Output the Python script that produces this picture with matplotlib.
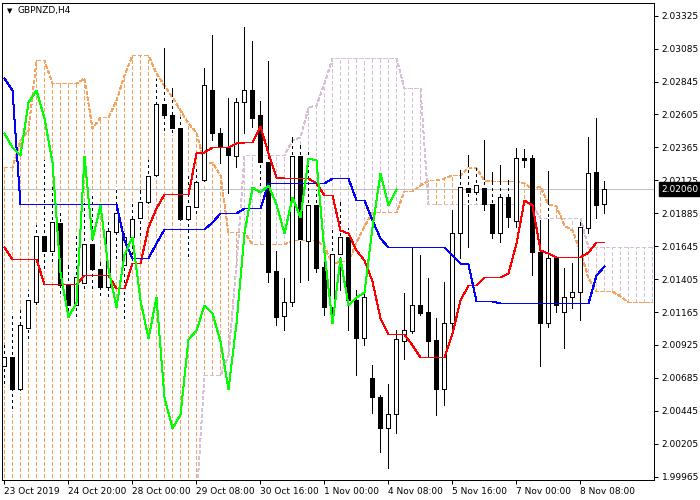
import matplotlib
matplotlib.use('Agg')
import matplotlib.pyplot as plt
from matplotlib.collections import LineCollection
import matplotlib.transforms as mtransforms
import numpy as np

# GBPNZD H4 candles
opens = [
    2.00772, 2.00837, 2.00604, 2.01049, 2.01238, 2.01719, 2.01610, 2.01814, 2.01362, 2.01216,
    2.01377, 2.01661, 2.01479, 2.01347, 2.01748, 2.01508, 2.01712, 2.01851, 2.01967, 2.02164,
    2.02681, 2.02601, 2.02506, 2.01843, 2.01930, 2.02127, 2.02783, 2.02470, 2.02368, 2.02302,
    2.02696, 2.02783, 2.02601, 2.02258, 2.01464, 2.01136, 2.01238, 2.02302, 2.01683, 2.01945,
    2.01493, 2.01202, 2.01588, 2.01712, 2.01253, 2.00976, 2.00684, 2.00546, 2.00320, 2.00422,
    2.00954, 2.01027, 2.01216, 2.01165, 2.00961, 2.00604, 2.01085, 2.01741, 2.02069, 2.02040,
    2.02069, 2.01952, 2.01741, 2.02003, 2.01829, 2.02288, 2.02288, 2.01602, 2.01085, 2.01559,
    2.01165, 2.01274, 2.01311, 2.01777, 2.02185, 2.01952]
highs = [
    2.00925, 2.01158, 2.01180, 2.01326, 2.01799, 2.02273, 2.02076, 2.01909, 2.01508, 2.01741,
    2.01960, 2.02032, 2.01530, 2.01821, 2.02076, 2.01741, 2.01967, 2.02054, 2.02273, 2.02863,
    2.03089, 2.02798, 2.02586, 2.02178, 2.02222, 2.02943, 2.03184, 2.02506, 2.02725, 2.02725,
    2.03242, 2.03140, 2.02703, 2.02994, 2.01610, 2.01413, 2.02441, 2.02382, 2.02346, 2.02054,
    2.01654, 2.01763, 2.01967, 2.01777, 2.01326, 2.01326, 2.00779, 2.00560, 2.00640, 2.01034,
    2.01304, 2.01639, 2.01581, 2.01413, 2.01122, 2.01384, 2.01909, 2.02200, 2.02309, 2.02215,
    2.02419, 2.02185, 2.02237, 2.02127, 2.02360, 2.02353, 2.02309, 2.01836, 2.02193, 2.01573,
    2.01486, 2.01522, 2.01821, 2.02441, 2.02579, 2.02120]
lows = [
    2.00633, 2.00451, 2.00582, 2.00961, 2.01209, 2.01471, 2.01522, 2.01289, 2.01122, 2.01122,
    2.01326, 2.01326, 2.01274, 2.01267, 2.01544, 2.01107, 2.01486, 2.01712, 2.01945, 2.02142,
    2.02477, 2.02462, 2.01821, 2.01559, 2.01872, 2.02105, 2.02419, 2.02251, 2.02032, 2.02222,
    2.02470, 2.02513, 2.02076, 2.01384, 2.01070, 2.01034, 2.01209, 2.01384, 2.01398, 2.01457,
    2.01143, 2.01085, 2.01326, 2.01034, 2.00706, 2.00925, 2.00429, 2.00145, 2.00028, 2.00283,
    2.00823, 2.01012, 2.01143, 2.00837, 2.00415, 2.00487, 2.01049, 2.01559, 2.01639, 2.01967,
    2.01909, 2.01705, 2.01675, 2.01785, 2.01785, 2.02222, 2.01435, 2.00772, 2.01056, 2.01165,
    2.00903, 2.01194, 2.01107, 2.01741, 2.01851, 2.01887]
closes = [
    2.00837, 2.00604, 2.01070, 2.01253, 2.01719, 2.01610, 2.01821, 2.01362, 2.01216, 2.01420,
    2.01661, 2.01479, 2.01347, 2.01756, 2.01887, 2.01712, 2.01843, 2.01967, 2.02156, 2.02681,
    2.02601, 2.02506, 2.01843, 2.01938, 2.02113, 2.02820, 2.02470, 2.02368, 2.02309, 2.02696,
    2.02783, 2.02579, 2.02258, 2.01457, 2.01129, 2.01238, 2.02302, 2.01697, 2.01945, 2.01486,
    2.01202, 2.01588, 2.01712, 2.01253, 2.00976, 2.01274, 2.00546, 2.00320, 2.00422, 2.00968,
    2.01034, 2.01216, 2.01158, 2.00954, 2.00604, 2.01085, 2.01741, 2.02076, 2.02040, 2.02091,
    2.01952, 2.01741, 2.02003, 2.01858, 2.02288, 2.02273, 2.01602, 2.01085, 2.01559, 2.01216,
    2.01274, 2.01311, 2.01785, 2.02178, 2.01945, 2.02060]

# Ichimoku lines
tenkan = [
    2.01639, 2.01551, 2.01551, 2.01551, 2.01551, 2.01369, 2.01369, 2.01369, 2.01369, 2.01369,
    2.01435, 2.01435, 2.01435, 2.01435, 2.01340, 2.01340, 2.01522, 2.01522, 2.01785, 2.01923,
    2.02025, 2.02025, 2.02025, 2.02025, 2.02324, 2.02331, 2.02368, 2.02368, 2.02368, 2.02397,
    2.02404, 2.02404, 2.02521, 2.02324, 2.02149, 2.02142, 2.02142, 2.02142, 2.02142, 2.02105,
    2.02018, 2.02018, 2.01763, 2.01741, 2.01617, 2.01544, 2.01391, 2.01122, 2.01005, 2.01005,
    2.01005, 2.00925, 2.00837, 2.00837, 2.00837, 2.00837, 2.01012, 2.01253, 2.01362, 2.01362,
    2.01420, 2.01420, 2.01420, 2.01449, 2.01668, 2.01981, 2.01945, 2.01617, 2.01595, 2.01566,
    2.01566, 2.01566, 2.01566, 2.01602, 2.01675, 2.01675]
kijun = [
    2.02871, 2.02783, 2.01952, 2.01952, 2.01952, 2.01952, 2.01952, 2.01952, 2.01952, 2.01952,
    2.01952, 2.01952, 2.01952, 2.01952, 2.01952, 2.01690, 2.01559, 2.01559, 2.01559, 2.01668,
    2.01770, 2.01770, 2.01770, 2.01770, 2.01770, 2.01770, 2.01821, 2.01887, 2.01887, 2.01887,
    2.01923, 2.01923, 2.01923, 2.02105, 2.02105, 2.02105, 2.02105, 2.02105, 2.02105, 2.02105,
    2.02105, 2.02142, 2.02142, 2.02142, 2.01981, 2.01981, 2.01836, 2.01705, 2.01639, 2.01639,
    2.01639, 2.01639, 2.01639, 2.01639, 2.01639, 2.01639, 2.01581, 2.01522, 2.01515, 2.01245,
    2.01245, 2.01245, 2.01231, 2.01231, 2.01231, 2.01231, 2.01231, 2.01231, 2.01231, 2.01231,
    2.01231, 2.01231, 2.01231, 2.01231, 2.01435, 2.01500]
# senkou span A for the first 26 shifted bars (source bars are off the chart)
span_a_early = [
    2.02222, 2.02222, 2.02419, 2.02492, 2.03002, 2.03002, 2.02834, 2.02834, 2.02834, 2.02834,
    2.02871, 2.02506, 2.02586, 2.02586, 2.02710, 2.02892, 2.03038, 2.03038, 2.03038, 2.02907,
    2.02820, 2.02732, 2.02637, 2.02543, 2.02477, 2.02251]
span_b = [
    1.99700, 1.99700, 1.99700, 1.99700, 1.99700, 1.99700, 1.99700, 1.99700, 1.99700, 1.99700,
    1.99700, 1.99700, 1.99700, 1.99700, 1.99700, 1.99700, 1.99700, 1.99700, 1.99700, 1.99700,
    1.99700, 1.99700, 1.99700, 1.99700, 1.99700, 2.00706, 2.00706, 2.00706, 2.00852, 2.01508,
    2.02309, 2.02309, 2.02309, 2.02309, 2.02309, 2.02309, 2.02419, 2.02441, 2.02659, 2.02674,
    2.02834, 2.03016, 2.03016, 2.03016, 2.03016, 2.03016, 2.03016, 2.03016, 2.03016, 2.03016,
    2.02798, 2.02798, 2.02798, 2.01952, 2.01952, 2.01952, 2.01952, 2.01952, 2.01952, 2.01952,
    2.01952, 2.01952, 2.01952, 2.01952, 2.01952, 2.01952, 2.01952, 2.01851, 2.01851, 2.01851,
    2.01851, 2.01851, 2.01851, 2.01639, 2.01639, 2.01639, 2.01639, 2.01639, 2.01639, 2.01639,
    2.01639, 2.01639]

date_labels = ['23 Oct 2019', '24 Oct 20:00', '28 Oct 00:00', '29 Oct 08:00', '30 Oct 16:00',
               '1 Nov 00:00', '4 Nov 08:00', '5 Nov 16:00', '7 Nov 00:00', '8 Nov 08:00']
price_ticks = [2.03325, 2.03085, 2.02845, 2.02605, 2.02365, 2.02125, 2.01885, 2.01645,
               2.01405, 2.01165, 2.00925, 2.00685, 2.00445, 2.00205, 1.99965]
symbol = 'GBPNZD,H4'
last_price = closes[-1]

SANDY = '#f4a460'
THISTLE = '#d8bfd8'
PX = 0.72   # one pixel in points
DOT = (0, (3, 2.5))
crisp = dict(antialiased=False, snap=True)

plt.rcParams['font.family'] = ['DejaVu Sans']
fig = plt.figure(figsize=(7, 5), dpi=100)
ax = fig.add_axes([2 / 700, 20 / 500, 652 / 700, 477 / 500])
ax.set_facecolor('white')

n = len(closes)
x = np.arange(n)
o, h, l, c = (np.array(v) for v in (opens, highs, lows, closes))

# cloud (span A is tenkan/kijun midpoint shifted 26 bars)
span_a = list(span_a_early) + [(t + k) / 2 for t, k in zip(tenkan, kijun)]
span_a = np.array(span_a[:len(span_b)])
sb = np.array(span_b)
xc = np.arange(len(sb))
cl_lo = np.minimum(span_a, sb)
cl_hi = np.maximum(span_a, sb)
segs = [[(j, cl_lo[j]), (j, cl_hi[j])] for j in xc]
cols = [SANDY if span_a[j] >= sb[j] else THISTLE for j in xc]
cloud = LineCollection(segs, colors=cols, linewidths=PX, linestyles=[DOT], zorder=1,
                       antialiaseds=False)
cloud.set_snap(True)
ax.add_collection(cloud)
ax.plot(xc, span_a, color=SANDY, lw=PX, ls=DOT, zorder=1.2, **crisp)
ax.plot(xc, sb, color=THISTLE, lw=PX, ls=DOT, zorder=1.2, **crisp)

ax.axhline(last_price, color='#c0c0c0', lw=PX, zorder=1.5, **crisp)

# candles
wicks = ax.vlines(x, l, h, color='black', lw=PX, zorder=2, antialiaseds=False)
wicks.set_snap(True)
wick_segs = []
for i in x:
    top = min(h[i], cl_hi[i])
    bot = max(l[i], cl_lo[i])
    if top > bot:
        wick_segs.append([(i, bot), (i, top)])
gaps = LineCollection(wick_segs, colors='white', linewidths=PX,
                      linestyles=[(1, (2.5, 3))], zorder=2.5, antialiaseds=False)
gaps.set_snap(True)
ax.add_collection(gaps)
body_col = ['white' if c[i] >= o[i] else 'black' for i in x]
ax.bar(x, np.maximum(np.abs(c - o), 0.00002), bottom=np.minimum(o, c), width=0.5,
       color=body_col, edgecolor='black', linewidth=PX, zorder=3, antialiased=False)

# lines
ax.plot(x, tenkan, color='#ff0000', lw=PX, zorder=4, **crisp)
ax.plot(x, kijun, color='#0000ff', lw=PX, zorder=4, **crisp)
ax.plot(x[:n - 26], c[26:], color='#00ff00', lw=PX, zorder=4, **crisp)

ax.set_xlim(-0.1875, 81.3125)
ax.set_ylim(1.99941, 2.034173)

for s in ax.spines.values():
    s.set_color('black')
    s.set_linewidth(PX)

ax.yaxis.tick_right()
ax.set_yticks(price_ticks)
ax.set_yticklabels([f'{v:.5f}' for v in price_ticks])
ax.set_xticks(np.arange(0, 8 * len(date_labels), 8))
ax.set_xticklabels(date_labels)
for lbl in ax.get_xticklabels():
    lbl.set_horizontalalignment('left')
ax.tick_params(axis='both', direction='out', length=3, width=PX, labelsize=6.5,
               colors='black')
ax.tick_params(axis='y', pad=2.5)
ax.tick_params(axis='x', pad=2)

trans = mtransforms.blended_transform_factory(ax.transAxes, ax.transData)
ax.text(1.011, last_price, f'{last_price:.5f}', transform=trans,
        fontsize=6.5, color='white', ha='left', va='center', zorder=10,
        bbox=dict(boxstyle='square,pad=0.25', fc='black', ec='black'),
        clip_on=False)

fig.text(7 / 700, 1 - 11 / 500, '\u25bc', fontsize=5, va='center', ha='left')
fig.text(18 / 700, 1 - 11 / 500, symbol, fontsize=6.5, va='center', ha='left')

fig.savefig('out.png', dpi=100, facecolor='white')
